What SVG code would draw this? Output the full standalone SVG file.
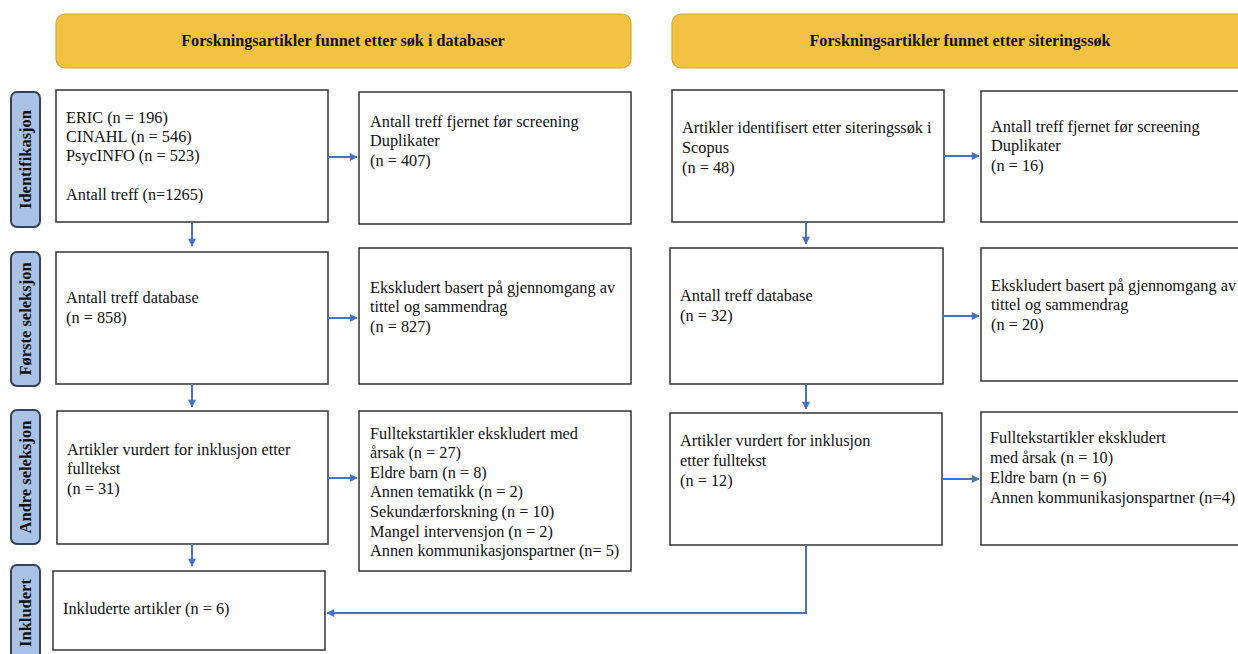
<svg xmlns="http://www.w3.org/2000/svg" width="1238" height="654" viewBox="0 0 1238 654">
<style>
.hdr{fill:#f4c242;stroke:#d6a53a;stroke-width:1.2}
.hdrt{font-family:"Liberation Serif","Times New Roman",serif;font-weight:bold;font-size:16.2px;fill:#111;text-anchor:middle}
.pill{fill:#a9c3e6;stroke:#34425a;stroke-width:2}
.pillt{font-family:"Liberation Serif","Times New Roman",serif;font-weight:bold;font-size:16.5px;fill:#111;text-anchor:middle}
.box{fill:#fff;stroke:#333;stroke-width:1.5}
.t{font-family:"Liberation Serif","Times New Roman",serif;font-size:16.3px;fill:#111}
.c{fill:none;stroke:#4472c4;stroke-width:2}
</style>
<defs>
<marker id="ah" viewBox="0 0 10 10" refX="9" refY="5" markerUnits="userSpaceOnUse" markerWidth="9" markerHeight="8" orient="auto">
<path d="M0,0 L10,5 L0,10 z" fill="#4472c4"/>
</marker>
</defs>

<g id="header-db">
<rect class="hdr" x="56" y="14" width="575" height="54" rx="9"/>
<text class="hdrt" x="343" y="46">Forskningsartikler funnet etter søk i databaser</text>
</g>
<g id="header-cit">
<rect class="hdr" x="672" y="14" width="580" height="54" rx="9"/>
<text class="hdrt" x="960" y="46">Forskningsartikler funnet etter siteringssøk</text>
</g>

<g id="phase-identifikasjon">
<rect class="pill" x="11" y="92" width="29" height="135" rx="6"/>
<text class="pillt" transform="translate(31,159.5) rotate(-90)">Identifikasjon</text>
</g>
<g id="phase-forste">
<rect class="pill" x="11" y="252" width="29" height="134" rx="6"/>
<text class="pillt" transform="translate(31,319) rotate(-90)">Første seleksjon</text>
</g>
<g id="phase-andre">
<rect class="pill" x="11" y="410" width="29" height="134" rx="6"/>
<text class="pillt" transform="translate(31,477) rotate(-90)">Andre seleksjon</text>
</g>
<g id="phase-inkludert">
<rect class="pill" x="11" y="565" width="29" height="102" rx="6"/>
<text class="pillt" transform="translate(31,613) rotate(-90)">Inkludert</text>
</g>

<g id="A1">
<rect class="box" x="56" y="90" width="272" height="132"/>
<text class="t" x="66" y="123">ERIC (n = 196)</text>
<text class="t" x="66" y="142">CINAHL (n = 546)</text>
<text class="t" x="66" y="161">PsycINFO (n = 523)</text>
<text class="t" x="66" y="200">Antall treff (n=1265)</text>
</g>
<g id="A2">
<rect class="box" x="359" y="92" width="272" height="132"/>
<text class="t" x="370" y="127">Antall treff fjernet før screening</text>
<text class="t" x="370" y="146">Duplikater</text>
<text class="t" x="370" y="166">(n = 407)</text>
</g>
<g id="B1">
<rect class="box" x="56" y="252" width="272" height="132"/>
<text class="t" x="66" y="303">Antall treff database</text>
<text class="t" x="66" y="323">(n = 858)</text>
</g>
<g id="B2">
<rect class="box" x="359" y="248" width="272" height="136"/>
<text class="t" x="370" y="293">Ekskludert basert på gjennomgang av</text>
<text class="t" x="370" y="312">tittel og sammendrag</text>
<text class="t" x="370" y="332">(n = 827)</text>
</g>
<g id="C1">
<rect class="box" x="57" y="411" width="271" height="133"/>
<text class="t" x="67" y="455">Artikler vurdert for inklusjon etter</text>
<text class="t" x="67" y="474">fulltekst</text>
<text class="t" x="67" y="494">(n = 31)</text>
</g>
<g id="C2">
<rect class="box" x="359" y="411" width="272" height="160"/>
<text class="t" x="370" y="439">Fulltekstartikler ekskludert med</text>
<text class="t" x="370" y="458">årsak (n = 27)</text>
<text class="t" x="370" y="478">Eldre barn (n = 8)</text>
<text class="t" x="370" y="497">Annen tematikk (n = 2)</text>
<text class="t" x="370" y="517">Sekundærforskning (n = 10)</text>
<text class="t" x="370" y="537">Mangel intervensjon (n = 2)</text>
<text class="t" x="370" y="556">Annen kommunikasjonspartner (n= 5)</text>
</g>
<g id="D">
<rect class="box" x="53" y="571" width="272" height="79"/>
<text class="t" x="63" y="614">Inkluderte artikler (n = 6)</text>
</g>

<g id="R1">
<rect class="box" x="672" y="90" width="272" height="132"/>
<text class="t" x="682" y="133">Artikler identifisert etter siteringssøk i</text>
<text class="t" x="682" y="153">Scopus</text>
<text class="t" x="682" y="173">(n = 48)</text>
</g>
<g id="R2">
<rect class="box" x="981" y="91" width="270" height="131"/>
<text class="t" x="991" y="132">Antall treff fjernet før screening</text>
<text class="t" x="991" y="151">Duplikater</text>
<text class="t" x="991" y="171">(n = 16)</text>
</g>
<g id="R3">
<rect class="box" x="670" y="248" width="273" height="136"/>
<text class="t" x="680" y="301">Antall treff database</text>
<text class="t" x="680" y="321">(n = 32)</text>
</g>
<g id="R4">
<rect class="box" x="981" y="248" width="270" height="133"/>
<text class="t" x="991" y="291">Ekskludert basert på gjennomgang av</text>
<text class="t" x="991" y="310">tittel og sammendrag</text>
<text class="t" x="991" y="330">(n = 20)</text>
</g>
<g id="R5">
<rect class="box" x="670" y="413" width="272" height="132"/>
<text class="t" x="680" y="446">Artikler vurdert for inklusjon</text>
<text class="t" x="680" y="466">etter fulltekst</text>
<text class="t" x="680" y="486">(n = 12)</text>
</g>
<g id="R6">
<rect class="box" x="981" y="412" width="270" height="133"/>
<text class="t" x="990" y="443">Fulltekstartikler ekskludert</text>
<text class="t" x="990" y="463">med årsak (n = 10)</text>
<text class="t" x="990" y="483">Eldre barn (n = 6)</text>
<text class="t" x="990" y="503">Annen kommunikasjonspartner (n=4)</text>
</g>

<g id="connectors">
<path class="c" d="M328,157 H357" marker-end="url(#ah)"/>
<path class="c" d="M192,223 V246" marker-end="url(#ah)"/>
<path class="c" d="M328,318 H357" marker-end="url(#ah)"/>
<path class="c" d="M192,384 V407" marker-end="url(#ah)"/>
<path class="c" d="M328,478 H357" marker-end="url(#ah)"/>
<path class="c" d="M192,544 V566" marker-end="url(#ah)"/>
<path class="c" d="M806,545 V613 H327" marker-end="url(#ah)"/>
<path class="c" d="M944,156 H979" marker-end="url(#ah)"/>
<path class="c" d="M806,222 V244" marker-end="url(#ah)"/>
<path class="c" d="M943,316 H979" marker-end="url(#ah)"/>
<path class="c" d="M806,384 V409" marker-end="url(#ah)"/>
<path class="c" d="M942,479 H979" marker-end="url(#ah)"/>
</g>
</svg>
